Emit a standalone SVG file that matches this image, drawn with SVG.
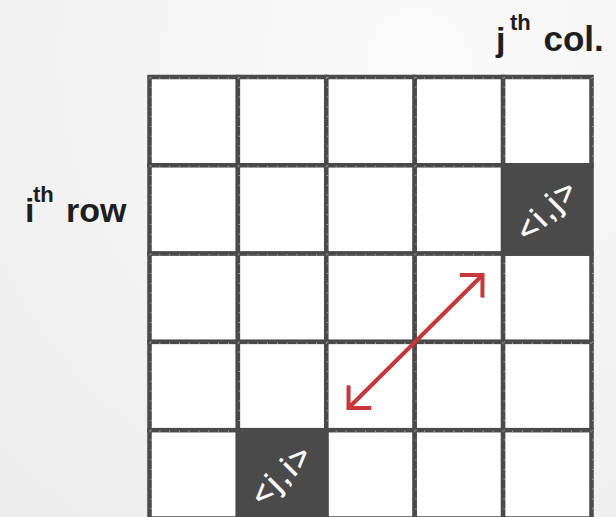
<svg xmlns="http://www.w3.org/2000/svg" width="616" height="517" viewBox="0 0 616 517">
  <defs>
    <radialGradient id="bg" cx="420" cy="60" r="620" gradientUnits="userSpaceOnUse">
      <stop offset="0" stop-color="#fbfbfb"/>
      <stop offset="1" stop-color="#ececec"/>
    </radialGradient>
    <marker id="chev" markerUnits="userSpaceOnUse" viewBox="-24 -24 48 48" markerWidth="48" markerHeight="48" refX="0" refY="0" orient="auto-start-reverse">
      <path d="M-16,-16 L0,0 L-16,16" fill="none" stroke="#c8363a" stroke-width="4" stroke-linejoin="miter" stroke-linecap="butt"/>
    </marker>
    <style>
      .cell { fill: #ffffff; stroke: #4a4a4a; stroke-width: 4.5; }
      .dark { fill: #4a4a4a; stroke: #4a4a4a; stroke-width: 4.5; }
      .tick { fill: none; stroke: #9c9c9c; stroke-width: 1.6; stroke-dasharray: 1 8.8; }
      .lbl { font-family: "Liberation Sans", Arial, sans-serif; font-weight: bold; fill: #1e1e1e; }
      .big { font-size: 34px; }
      .sup { font-size: 22px; }
      .idx { font-family: "Liberation Sans", Arial, sans-serif; font-size: 31px; fill: #ffffff; letter-spacing: 3px; stroke: #ffffff; stroke-width: 0.6; }
    </style>
  </defs>
  <rect x="0" y="0" width="616" height="517" fill="url(#bg)"/>

  <g id="grid">
    <g id="row0">
      <rect class="cell" x="149.5" y="77" width="88.4" height="88.3"/>
      <rect class="cell" x="237.9" y="77" width="88.4" height="88.3"/>
      <rect class="cell" x="326.3" y="77" width="88.4" height="88.3"/>
      <rect class="cell" x="414.7" y="77" width="88.4" height="88.3"/>
      <rect class="cell" x="503.1" y="77" width="88.4" height="88.3"/>
    </g>
    <g id="row1">
      <rect class="cell" x="149.5" y="165.3" width="88.4" height="88.3"/>
      <rect class="cell" x="237.9" y="165.3" width="88.4" height="88.3"/>
      <rect class="cell" x="326.3" y="165.3" width="88.4" height="88.3"/>
      <rect class="cell" x="414.7" y="165.3" width="88.4" height="88.3"/>
    </g>
    <g id="row2">
      <rect class="cell" x="149.5" y="253.6" width="88.4" height="88.3"/>
      <rect class="cell" x="237.9" y="253.6" width="88.4" height="88.3"/>
      <rect class="cell" x="326.3" y="253.6" width="88.4" height="88.3"/>
      <rect class="cell" x="414.7" y="253.6" width="88.4" height="88.3"/>
      <rect class="cell" x="503.1" y="253.6" width="88.4" height="88.3"/>
    </g>
    <g id="row3">
      <rect class="cell" x="149.5" y="341.9" width="88.4" height="88.3"/>
      <rect class="cell" x="237.9" y="341.9" width="88.4" height="88.3"/>
      <rect class="cell" x="326.3" y="341.9" width="88.4" height="88.3"/>
      <rect class="cell" x="414.7" y="341.9" width="88.4" height="88.3"/>
      <rect class="cell" x="503.1" y="341.9" width="88.4" height="88.3"/>
    </g>
    <g id="row4">
      <rect class="cell" x="149.5" y="430.2" width="88.4" height="88.3"/>
      <rect class="cell" x="326.3" y="430.2" width="88.4" height="88.3"/>
      <rect class="cell" x="414.7" y="430.2" width="88.4" height="88.3"/>
      <rect class="cell" x="503.1" y="430.2" width="88.4" height="88.3"/>
    </g>
    <g id="ticks">
      <path class="tick" d="M149.5,78.2 H591.5 M149.5,166.5 H591.5 M149.5,254.8 H591.5 M149.5,343.1 H591.5 M149.5,431.4 H591.5"/>
      <path class="tick" d="M150.7,77 V517 M239.1,77 V517 M327.5,77 V517 M415.9,77 V517 M504.3,77 V517 M592.7,77 V517"/>
    </g>
  </g>

  <g id="cell-ij">
    <rect class="dark" x="503.1" y="165.3" width="88.4" height="88.3"/>
    <text class="idx" transform="translate(547.3,209.5) rotate(-45)" text-anchor="middle" dominant-baseline="central">&lt;i,j&gt;</text>
  </g>

  <g id="cell-ji">
    <rect class="dark" x="237.9" y="430.2" width="88.4" height="88.3"/>
    <text class="idx" transform="translate(282.1,474.3) rotate(-45)" text-anchor="middle" dominant-baseline="central">&lt;j,i&gt;</text>
  </g>

  <g id="label-col">
    <text class="lbl"><tspan class="big" x="496" y="51">j</tspan><tspan class="sup" x="510" y="30">th</tspan><tspan class="big" x="543.5" y="51" style="font-size:35px">col.</tspan></text>
  </g>

  <g id="label-row">
    <text class="lbl"><tspan class="big" x="25" y="222">i</tspan><tspan class="sup" x="33" y="202">th</tspan><tspan class="big" x="66" y="222">row</tspan></text>
  </g>

  <g id="connectors">
    <line x1="348.5" y1="408" x2="482.5" y2="275" stroke="#c8363a" stroke-width="4" marker-start="url(#chev)" marker-end="url(#chev)"/>
  </g>
</svg>
